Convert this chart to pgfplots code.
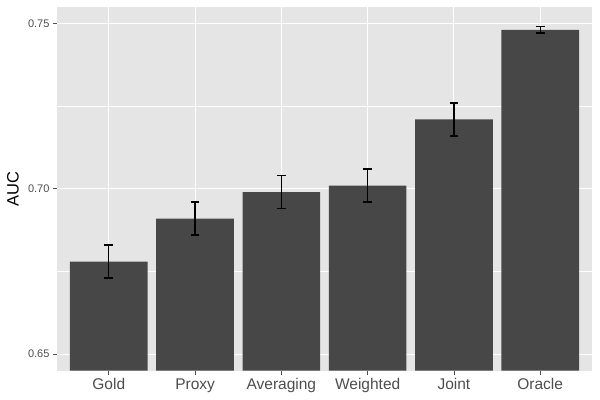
\documentclass[border=0pt]{standalone}
\usepackage{pgfplots}
\pgfplotsset{compat=1.18}
\usepackage{fontspec}
\setmainfont{Liberation Sans}
\definecolor{bggrey}{HTML}{E5E5E5}
\definecolor{bargrey}{HTML}{474747}
\definecolor{txtgrey}{HTML}{4D4D4D}
\begin{document}
\begin{tikzpicture}
\useasboundingbox (0,0) rectangle (600bp,400bp);
\begin{axis}[
  at={(57bp,29.3bp)}, anchor=south west,
  scale only axis, width=535bp, height=363.7bp,
  xmin=-0.6, xmax=5.6, ymin=0.645, ymax=0.755,
  axis background/.style={fill=bggrey},
  axis line style={draw=none},
  xtick={0,1,2,3,4,5},
  xticklabels={Gold,Proxy,Averaging,Weighted,Joint,Oracle},
  ytick={0.65,0.70,0.75},
  minor ytick={0.675,0.725},
  grid=both,
  major grid style={white, line width=1.1bp},
  minor grid style={white, line width=0.5bp},
  tick align=outside,
  major tick length=4bp,
  minor tick length=0pt,
  tick style={txtgrey, line width=0.8bp},
  xtick pos=left, ytick pos=left,
  /pgf/number format/assume math mode=true,
  yticklabel style={font=\fontsize{11bp}{13bp}\selectfont, text=txtgrey, /pgf/number format/.cd, fixed, fixed zerofill, precision=2},
  xticklabel style={font=\fontsize{15.5bp}{18bp}\selectfont, text=txtgrey, text height=11.5bp, text depth=3.5bp},
  ylabel={AUC},
  every axis y label/.style={at={(axis description cs:0,0.5)}, xshift=-44bp, rotate=90, anchor=center, font=\fontsize{16.5bp}{19bp}\selectfont},
  clip=true,
]
\addplot[ybar, bar width=0.9, fill=bargrey, draw=none,
  error bars/.cd, y dir=both, y explicit,
  error bar style={black, line width=1.4bp},
  error mark options={rotate=90, mark size=4.35bp, line width=1.4bp, black}]
  coordinates {
  (0,0.678) +- (0,0.005)
  (1,0.691) +- (0,0.005)
  (2,0.699) +- (0,0.005)
  (3,0.701) +- (0,0.005)
  (4,0.721) +- (0,0.005)
  (5,0.7481) +- (0,0.001)
  };
\end{axis}
\end{tikzpicture}
\end{document}
